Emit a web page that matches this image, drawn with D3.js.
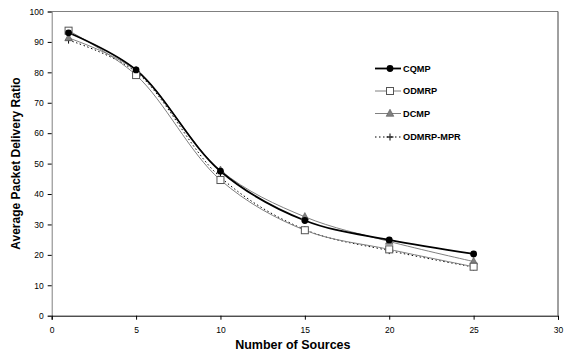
<!DOCTYPE html>
<html><head><meta charset="utf-8">
<script src="https://cdn.jsdelivr.net/npm/d3@7"></script>
<style>body{margin:0;background:#fff}svg{display:block}text{font-family:"Liberation Sans",Arial,sans-serif}</style>
</head><body>
<script>
const xValues = [1, 5, 10, 15, 20, 25];
const cqmp = [93, 80.8, 47.5, 31.3, 24.9, 20.3];
const odmrp = [93.7, 79.1, 44.6, 28.1, 21.8, 16.1];
const dcmp = [91.3, 80.6, 47.8, 32.5, 24.4, 17.8];
const odmrpMpr = [90.6, 80.1, 45.5, 28.3, 21.4, 16.0];
const seriesNames = ["CQMP", "ODMRP", "DCMP", "ODMRP-MPR"];
const xTicks = [0, 5, 10, 15, 20, 25, 30];
const yTicks = [0, 10, 20, 30, 40, 50, 60, 70, 80, 90, 100];

const W = 567, H = 355;
const svg = d3.select("body").append("svg").attr("width", W).attr("height", H);
const x = d3.scaleLinear().domain([0, 30]).range([51.7, 558]);
const y = d3.scaleLinear().domain([0, 100]).range([315.7, 11.5]);

// frame
svg.append("line").attr("x1", x(0)).attr("x2", x(30)).attr("y1", y(100)).attr("y2", y(100)).attr("stroke", "#808080");
svg.append("line").attr("x1", x(30)).attr("x2", x(30)).attr("y1", y(100)).attr("y2", y(0)).attr("stroke", "#404040");

const yAxis = svg.append("g").attr("transform", `translate(${x(0)},0)`)
  .call(d3.axisLeft(y).tickValues(yTicks).tickSize(4).tickPadding(4));
yAxis.select(".domain").attr("stroke", "#808080");
yAxis.selectAll(".tick line").attr("stroke", "#000");
yAxis.selectAll("text").attr("font-size", 8.5).attr("fill", "#000");

const xAxis = svg.append("g").attr("transform", `translate(0,${y(0)})`)
  .call(d3.axisBottom(x).tickValues(xTicks).tickSize(4).tickPadding(7));
xAxis.select(".domain").attr("stroke", "#000");
xAxis.selectAll("text").attr("font-size", 8.5).attr("fill", "#000");

svg.append("text").attr("x", x(15) - 12).attr("y", 349).attr("text-anchor", "middle")
  .attr("font-size", 12.5).attr("font-weight", "bold").text("Number of Sources");
svg.append("text").attr("transform", `translate(20,${(y(0)+y(100))/2}) rotate(-90)`).attr("text-anchor", "middle")
  .attr("font-size", 12).attr("font-weight", "bold").text("Average Packet Delivery Ratio");

const curve = d3.curveCatmullRom.alpha(0.5);
const lineGen = d3.line().x((d, i) => x(xValues[i])).y(d => y(d)).curve(curve);

const styles = [
  {data: cqmp, stroke: "#000", width: 1.8, dash: null, marker: "circle"},
  {data: odmrp, stroke: "#808080", width: 1, dash: null, marker: "square"},
  {data: dcmp, stroke: "#808080", width: 1, dash: null, marker: "triangle"},
  {data: odmrpMpr, stroke: "#000", width: 1, dash: "1.5,2.5", marker: "plus"}
];

function drawMarker(g, type, cx, cy) {
  if (type === "circle") g.append("circle").attr("cx", cx).attr("cy", cy).attr("r", 3.4).attr("fill", "#000");
  else if (type === "square") g.append("rect").attr("x", cx - 3.5).attr("y", cy - 3.5).attr("width", 7).attr("height", 7).attr("fill", "#fff").attr("stroke", "#555").attr("stroke-width", 1);
  else if (type === "triangle") g.append("path").attr("d", `M${cx},${cy-4.3}L${cx+3.8},${cy+2.8}L${cx-3.8},${cy+2.8}Z`).attr("fill", "#808080").attr("stroke", "#555").attr("stroke-width", 0.6);
  else if (type === "plus") g.append("path").attr("d", `M${cx-3.5},${cy}H${cx+3.5}M${cx},${cy-3.5}V${cy+3.5}`).attr("stroke", "#000").attr("stroke-width", 1);
}

const order = [3, 2, 1, 0];
order.forEach(k => {
  const s = styles[k];
  svg.append("path").datum(s.data).attr("d", lineGen).attr("fill", "none")
    .attr("stroke", s.stroke).attr("stroke-width", s.width).attr("stroke-dasharray", s.dash);
});
order.forEach(k => {
  const s = styles[k];
  const g = svg.append("g");
  s.data.forEach((v, i) => drawMarker(g, s.marker, x(xValues[i]), y(v)));
});

// legend
const legY = [68.5, 91, 113.5, 137];
styles.forEach((s, k) => {
  const g = svg.append("g");
  g.append("line").attr("x1", 375).attr("x2", 401).attr("y1", legY[k]).attr("y2", legY[k])
    .attr("stroke", s.stroke).attr("stroke-width", s.width).attr("stroke-dasharray", s.dash);
  drawMarker(g, s.marker, 390, legY[k]);
  g.append("text").attr("x", 403).attr("y", legY[k] + 3.2).attr("font-size", 9.2).attr("font-weight", "bold").text(seriesNames[k]);
});
</script>
</body></html>
